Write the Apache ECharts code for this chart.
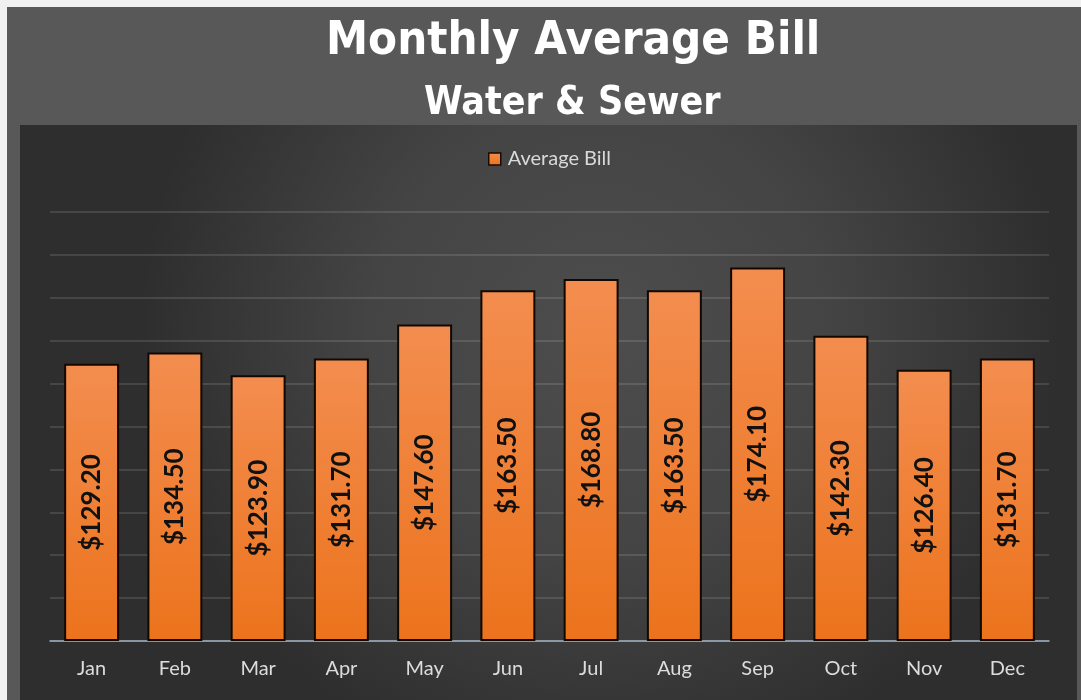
<!DOCTYPE html>
<html>
<head>
<meta charset="utf-8">
<title>Monthly Average Bill</title>
<script src="https://cdn.jsdelivr.net/npm/echarts@6/dist/echarts.min.js"></script>
<style>
  html, body { margin: 0; padding: 0; background: #f0f0f0; }
  #chart { width: 1081px; height: 700px; }
</style>
</head>
<body>
<div id="chart"></div>
<script>
  // data
  let months = ['Jan', 'Feb', 'Mar', 'Apr', 'May', 'Jun', 'Jul', 'Aug', 'Sep', 'Oct', 'Nov', 'Dec']
  let averageBill = [129.20, 134.50, 123.90, 131.70, 147.60, 163.50, 168.80, 163.50, 174.10, 142.30, 126.40, 131.70]
  let yMin = 0
  let yMax = 200
  let yStep = 20

  let chart = echarts.init(document.getElementById('chart'))
  let option = {
    backgroundColor: '#f0f0f0',
    graphic: [
      { // outer frame
        type: 'rect',
        z: -10,
        shape: { x: 7, y: 7, width: 1074, height: 693 },
        style: { fill: '#585858' }
      },
      { // plot area, dark with a lighter middle
        type: 'rect',
        z: -9,
        shape: { x: 20, y: 125, width: 1057, height: 575 },
        style: {
          fill: {
            type: 'radial', x: 0.55, y: 0.35, r: 0.8,
            colorStops: [
              { offset: 0, color: '#4d4d4d' },
              { offset: 0.5, color: '#444444' },
              { offset: 1, color: '#2e2e2e' }
            ]
          }
        }
      }
    ],
    title: [
      {
        text: 'Monthly Average Bill',
        left: 326,
        top: 18,
        padding: 0,
        textStyle: {
          color: '#ffffff',
          fontFamily: 'DejaVu Sans Condensed',
          fontWeight: 'bold',
          fontSize: 47
        }
      },
      {
        text: 'Water & Sewer',
        left: 424,
        top: 84,
        padding: 0,
        textStyle: {
          color: '#ffffff',
          fontFamily: 'DejaVu Sans Condensed',
          fontWeight: 'bold',
          fontSize: 39
        }
      }
    ],
    legend: {
      left: 488,
      top: 149,
      padding: 0,
      itemWidth: 12,
      itemHeight: 12,
      itemGap: 6,
      selectedMode: false,
      icon: 'rect',
      itemStyle: { borderColor: '#1a0a00', borderWidth: 1.5 },
      textStyle: { color: '#d9d9d9', fontFamily: 'Lato', fontSize: 20, padding: [0, 0, 0, 2] },
      data: ['Average Bill']
    },
    grid: {
      left: 50,
      right: 32,
      top: 212,
      bottom: 59,
      containLabel: false
    },
    xAxis: {
      type: 'category',
      data: months,
      axisTick: { show: false },
      axisLine: { lineStyle: { color: '#9fb0c2', width: 1.5 } },
      axisLabel: {
        color: '#dcdcdc',
        fontFamily: 'Lato',
        fontSize: 20,
        margin: 18
      }
    },
    yAxis: {
      type: 'value',
      min: yMin,
      max: yMax,
      interval: yStep,
      axisLine: { show: false },
      axisTick: { show: false },
      axisLabel: { show: false },
      splitLine: { lineStyle: { color: 'rgba(255,255,255,0.16)', width: 1.5 } }
    },
    series: [
      {
        name: 'Average Bill',
        type: 'bar',
        barCategoryGap: '34%',
        data: averageBill,
        itemStyle: {
          color: {
            type: 'linear', x: 0, y: 0, x2: 0, y2: 1,
            colorStops: [
              { offset: 0, color: '#f38d4f' },
              { offset: 1, color: '#ec731c' }
            ]
          },
          borderColor: '#120800',
          borderWidth: 2
        },
        label: {
          show: true,
          position: 'inside',
          rotate: 90,
          color: '#111111',
          fontFamily: 'Lato',
          fontWeight: 'bold',
          fontSize: 26,
          formatter: function (p) {
            return '$' + p.value.toFixed(2)
          }
        }
      }
    ]
  }
  chart.setOption(option)
</script>
</body>
</html>
